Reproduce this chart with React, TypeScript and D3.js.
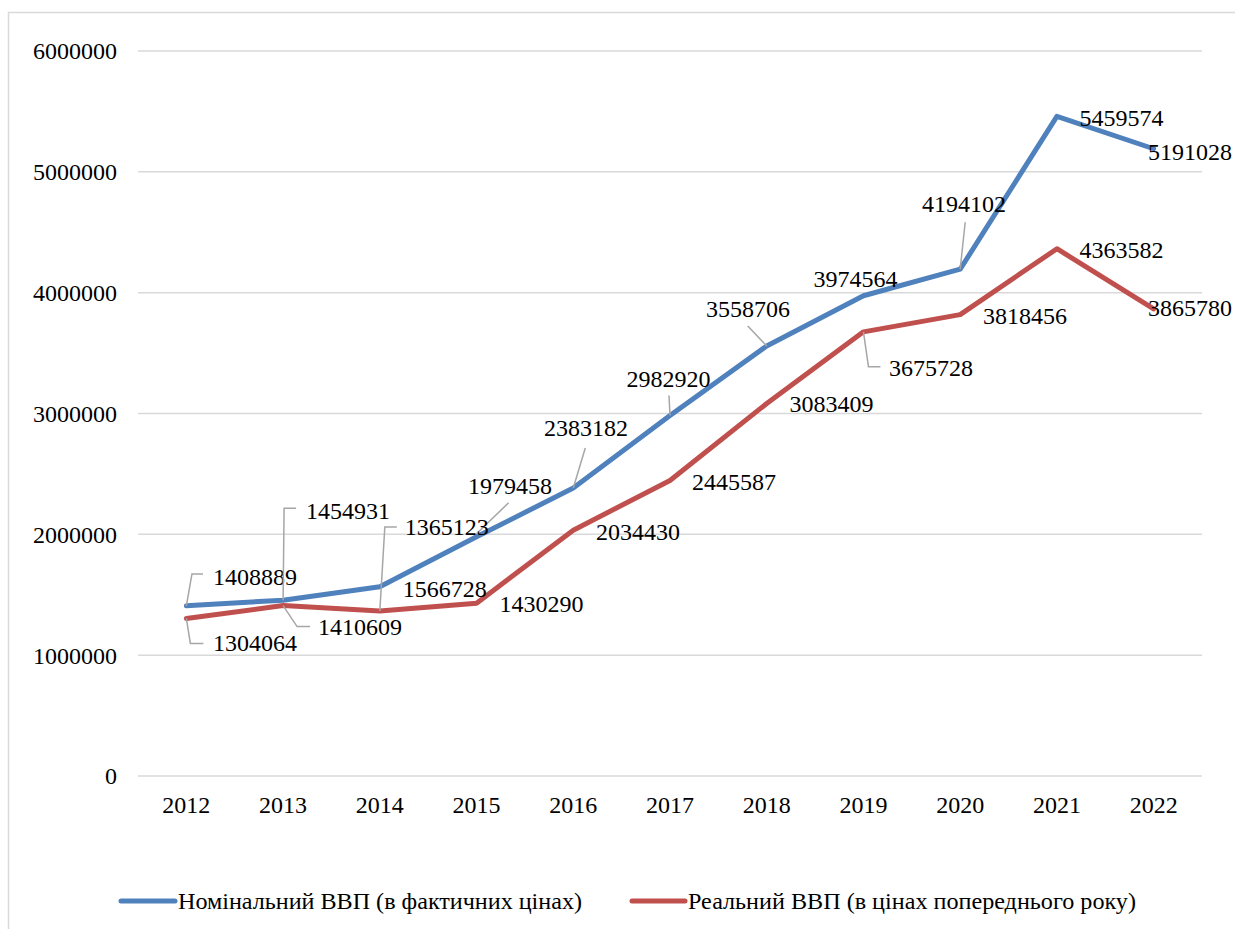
import React from "react";
import * as d3 from "d3";

const years = ["2012", "2013", "2014", "2015", "2016", "2017", "2018", "2019", "2020", "2021", "2022"];
const nominal = [1408889, 1454931, 1566728, 1979458, 2383182, 2982920, 3558706, 3974564, 4194102, 5459574, 5191028];
const real = [1304064, 1410609, 1365123, 1430290, 2034430, 2445587, 3083409, 3675728, 3818456, 4363582, 3865780];
const yTicks = [0, 1000000, 2000000, 3000000, 4000000, 5000000, 6000000];
const seriesNames = ["Номінальний ВВП (в фактичних цінах)", "Реальний ВВП (в цінах попереднього року)"];

// label layout (offset of label centre from the point, plus leader-line vertices relative to the point)
type Lab = { dx: number; dy: number; leader?: [number, number][] };
const nominalLabels: Lab[] = [
  { dx: 68.6, dy: -28.8, leader: [[0, 0], [5.6, -31.8], [16.6, -31.8]] },
  { dx: 65, dy: -90, leader: [[0, 0], [1, -92], [13, -92]] },
  { dx: 65, dy: 2 },
  { dx: 33.4, dy: -50.8, leader: [[0, -3], [32, -34]] },
  { dx: 12.7, dy: -60, leader: [[0, 0], [12, -40]] },
  { dx: -1.5, dy: -36.6, leader: [[0, 0], [-1, -20]] },
  { dx: -18.8, dy: -37, leader: [[0, 0], [-19, -20]] },
  { dx: -8, dy: -16.7 },
  { dx: 3.8, dy: -66, leader: [[0, 0], [5, -47]] },
  { dx: 64.6, dy: 1.7 },
  { dx: 36.4, dy: 3.2 },
];
const realLabels: Lab[] = [
  { dx: 68.6, dy: 24.6, leader: [[0, 0], [4, 25], [17, 25]] },
  { dx: 77, dy: 21.4, leader: [[0, 0], [14, 21], [27, 21]] },
  { dx: 67, dy: -84, leader: [[0, 0], [5, -84], [17, -84]] },
  { dx: 65, dy: 0.8 },
  { dx: 64.7, dy: 1.8 },
  { dx: 64, dy: 1.5 },
  { dx: 64.7, dy: 0.6 },
  { dx: 67.5, dy: 36, leader: [[0, 0], [5, 35], [17, 35]] },
  { dx: 64.8, dy: 1.4 },
  { dx: 64.6, dy: 1.3 },
  { dx: 36.4, dy: -0.9 },
];

const W = 1235;
const H = 929;
const plotLeft = 138;
const plotRight = 1202;
const plotTop = 51;
const plotBottom = 776;
const FONT = '"Liberation Serif", "Times New Roman", "DejaVu Serif", serif';
const BLUE = "#4F81BD";
const RED = "#C0504D";
const GRID = "#d9d9d9";
const LEADER = "#a6a6a6";
const txt = { fontFamily: FONT, fontSize: "24px" } as React.CSSProperties;

export default function App() {
  const x = d3.scaleBand<string>().domain(years).range([plotLeft, plotRight]);
  const cx = (yr: string) => (x(yr) as number) + x.bandwidth() / 2;
  const y = d3.scaleLinear().domain([0, 6000000]).range([plotBottom, plotTop]);
  const line = d3
    .line<number>()
    .x((_, i) => cx(years[i]))
    .y((v) => y(v));

  const series = [
    { values: nominal, color: BLUE, labels: nominalLabels },
    { values: real, color: RED, labels: realLabels },
  ];

  return (
    <svg
      width={W}
      height={H}
      style={{ position: "absolute", left: 0, top: 0, background: "#fff", display: "block" }}
    >
      <path d={`M8.5,${H + 5}V12.5H${W + 5}`} fill="none" stroke={GRID} strokeWidth={1.5} />
      {yTicks.map((t) => (
        <g key={t}>
          <line x1={plotLeft} x2={plotRight} y1={y(t)} y2={y(t)} stroke={GRID} strokeWidth={1.5} />
          <text x={117} y={y(t)} dy="0.35em" textAnchor="end" style={txt} fill="#000">
            {t}
          </text>
        </g>
      ))}
      {years.map((yr) => (
        <text key={yr} x={cx(yr)} y={805} dy="0.35em" textAnchor="middle" style={txt} fill="#000">
          {yr}
        </text>
      ))}
      {series.map((s, si) => (
        <path
          key={si}
          d={line(s.values) as string}
          fill="none"
          stroke={s.color}
          strokeWidth={5}
          strokeLinejoin="round"
          strokeLinecap="round"
        />
      ))}
      {series.map((s, si) =>
        s.values.map((v, i) => {
          const px = cx(years[i]);
          const py = y(v);
          const lab = s.labels[i];
          return (
            <g key={`${si}-${i}`}>
              {lab.leader && (
                <polyline
                  points={lab.leader.map(([a, b]) => `${px + a},${py + b}`).join(" ")}
                  fill="none"
                  stroke={LEADER}
                  strokeWidth={1.5}
                />
              )}
              <text x={px + lab.dx} y={py + lab.dy} dy="0.35em" textAnchor="middle" style={txt} fill="#000">
                {v}
              </text>
            </g>
          );
        })
      )}
      {/* legend */}
      <g>
        <line x1={121} x2={175} y1={901} y2={901} stroke={BLUE} strokeWidth={5} strokeLinecap="round" />
        <text x={178} y={901} dy="0.35em" style={txt} fill="#000" textLength={404} lengthAdjust="spacingAndGlyphs">
          {seriesNames[0]}
        </text>
        <line x1={632} x2={685} y1={901} y2={901} stroke={RED} strokeWidth={5} strokeLinecap="round" />
        <text x={688} y={901} dy="0.35em" style={txt} fill="#000" textLength={448} lengthAdjust="spacingAndGlyphs">
          {seriesNames[1]}
        </text>
      </g>
    </svg>
  );
}
